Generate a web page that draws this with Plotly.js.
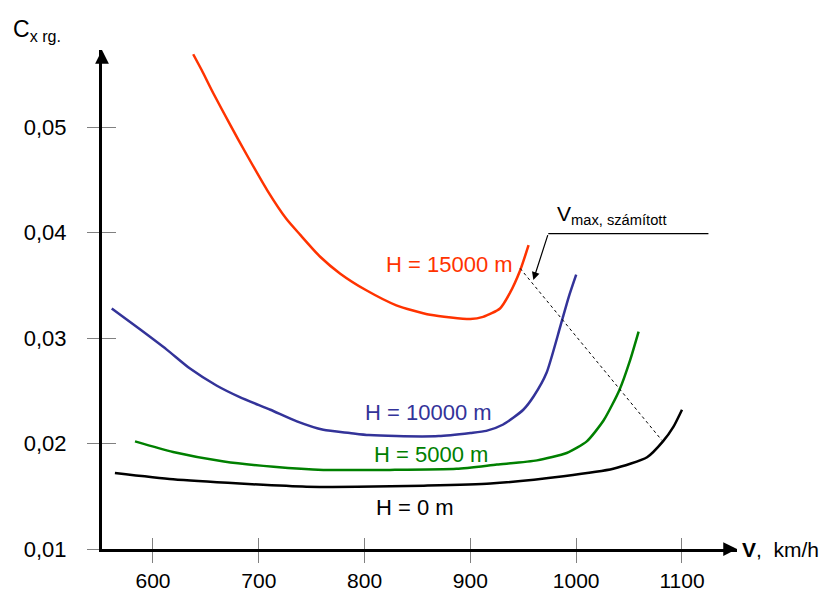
<!DOCTYPE html>
<html>
<head>
<meta charset="utf-8">
<script src="https://cdn.plot.ly/plotly-3.0.1.min.js"></script>
<style>html,body{margin:0;padding:0;background:#fff;}#chart{width:837px;height:594px;}</style>
</head>
<body>
<div id="chart"></div>
<script>
// ---- data ----
const xTickVals = [600, 700, 800, 900, 1000, 1100];
const xTickText = ["600", "700", "800", "900", "1000", "1100"];
const yTickVals = [0.01, 0.02, 0.03, 0.04, 0.05];
const yTickText = ["0,01", "0,02", "0,03", "0,04", "0,05"];

const v15000 = [638, 646, 657, 673, 689, 708, 726, 739, 758, 777, 802, 830, 862, 900, 912, 928, 937, 947, 955];
const c15000 = [0.0569, 0.0554, 0.0532, 0.0502, 0.0473, 0.0440, 0.0413, 0.0398, 0.0377, 0.0361, 0.0345, 0.0331, 0.0322, 0.0318, 0.0320, 0.0328, 0.0342, 0.0364, 0.0388];

const v10000 = [561, 588, 613, 635, 660, 682, 711, 736, 761, 786, 804, 830, 870, 900, 915, 931, 950, 960, 972, 985, 993, 1000];
const c10000 = [0.0328, 0.0308, 0.0289, 0.0271, 0.0255, 0.0244, 0.0232, 0.0221, 0.0213, 0.0210, 0.0208, 0.0207, 0.0207, 0.0210, 0.0212, 0.0218, 0.0232, 0.0245, 0.0267, 0.0311, 0.0339, 0.0360];

const v5000 = [583, 619, 667, 714, 761, 824, 887, 925, 963, 991, 1010, 1026, 1041, 1051, 1059];
const c5000 = [0.0202, 0.0192, 0.0183, 0.0178, 0.0175, 0.0175, 0.0176, 0.0180, 0.0184, 0.0191, 0.0202, 0.0222, 0.0251, 0.0279, 0.0306];

const v0 = [564, 619, 682, 745, 793, 856, 919, 988, 1035, 1067, 1082, 1092, 1100];
const c0 = [0.0172, 0.0166, 0.0162, 0.0159, 0.0159, 0.0160, 0.0162, 0.0169, 0.0176, 0.0187, 0.0202, 0.0216, 0.0232];

// V_max (computed) locus, dotted
const vVmax = [947, 1081];
const cVmax = [0.0366, 0.0203];

// leader line for the V_max label
const vLeader = [1125, 973.6];
const cLeader = [0.0399, 0.0399];
const leaderArrow = {fromV: 973.6, fromC: 0.0399, toV: 959.5, toC: 0.0355};

const labels = [
  {text: "H = 15000 m", v: 880, c: 0.0370, color: "#FF3300"},
  {text: "H = 10000 m", v: 860, c: 0.0229, color: "#333399"},
  {text: "H = 5000 m",  v: 863, c: 0.0190, color: "#008000"},
  {text: "H = 0 m",     v: 848, c: 0.0139, color: "#000000"}
];

const xRange = [551.8, 1152];
const yRange = [0.01, 0.0573];

const FONT = "Arial, 'Liberation Sans', sans-serif";

function curve(x, y, color) {
  return {x: x, y: y, mode: "lines", type: "scatter", hoverinfo: "skip",
          line: {color: color, width: 2.5, shape: "spline", smoothing: 0.6}, showlegend: false};
}

const traces = [
  curve(v15000, c15000, "#FF3300"),
  curve(v10000, c10000, "#333399"),
  curve(v5000, c5000, "#008000"),
  curve(v0, c0, "#000000"),
  {x: vVmax, y: cVmax, mode: "lines", type: "scatter", line: {color: "#000", width: 1, dash: "3px,3px"}, showlegend: false, hoverinfo: "skip"},
  {x: vLeader, y: cLeader, mode: "lines", type: "scatter", line: {color: "#000", width: 1.2}, showlegend: false, hoverinfo: "skip"},
  {x: [xRange[0]], y: [yRange[0]], xaxis: "x2", yaxis: "y2", mode: "markers", marker: {opacity: 0}, showlegend: false, hoverinfo: "skip"}
];

const annotations = labels.map(l => ({
  x: l.v, y: l.c, xref: "x", yref: "y", text: l.text, showarrow: false,
  font: {family: FONT, size: 22, color: l.color}, xanchor: "center", yanchor: "middle"
}));

annotations.push(
  // axis arrowheads
  {x: xRange[1], y: yRange[0], ax: xRange[1] - 12, ay: yRange[0], xref: "x", yref: "y", axref: "x", ayref: "y",
   text: "", showarrow: true, arrowhead: 2, arrowsize: 1.1, arrowwidth: 2.5, arrowcolor: "#000"},
  {x: xRange[0], y: yRange[1], ax: xRange[0], ay: yRange[1] - 0.0012, xref: "x", yref: "y", axref: "x", ayref: "y",
   text: "", showarrow: true, arrowhead: 2, arrowsize: 1.1, arrowwidth: 2.5, arrowcolor: "#000"},
  // leader arrow
  {x: leaderArrow.toV, y: leaderArrow.toC, ax: leaderArrow.fromV, ay: leaderArrow.fromC, xref: "x", yref: "y", axref: "x", ayref: "y",
   text: "", showarrow: true, arrowhead: 2, arrowsize: 1.3, arrowwidth: 1.2, arrowcolor: "#000"},
  // V_max label
  {x: 980, y: 0.0402, xref: "x", yref: "y", text: "V<sub>max, számított</sub>", showarrow: false,
   xanchor: "left", yanchor: "bottom", font: {family: FONT, size: 21, color: "#000"}},
  // axis titles
  {x: 1.005, y: 0, xref: "paper", yref: "paper", text: "<b>V</b>,  km/h", showarrow: false,
   xanchor: "left", yanchor: "middle", font: {family: FONT, size: 21, color: "#000"}},
  {x: -0.143, y: 1.072, xref: "paper", yref: "paper", text: "C<sub>x rg.</sub>", showarrow: false,
   xanchor: "left", yanchor: "top", font: {family: FONT, size: 23, color: "#000"}}
);

const tickCommon = {ticklen: 11, tickwidth: 1, tickcolor: "#808080", showgrid: false, zeroline: false};

const layout = {
  width: 837, height: 594,
  margin: {l: 102, r: 100, t: 50, b: 45},
  paper_bgcolor: "#fff", plot_bgcolor: "#fff",
  font: {family: FONT, size: 22, color: "#000"},
  xaxis: Object.assign({}, tickCommon, {range: xRange, tickvals: xTickVals, ticktext: xTickText, ticks: "outside",
    showline: true, linecolor: "#000", linewidth: 3, ticklabelstandoff: 0,
    tickfont: {family: FONT, size: 21, color: "#000"}}),
  yaxis: Object.assign({}, tickCommon, {range: yRange, tickvals: yTickVals, ticktext: yTickText, ticks: "outside",
    showline: true, linecolor: "#000", linewidth: 3, ticklen: 12, ticklabelstandoff: 16,
    tickfont: {family: FONT, size: 22, color: "#000"}}),
  xaxis2: Object.assign({}, tickCommon, {range: xRange, overlaying: "x", anchor: "y2", side: "bottom", tickvals: xTickVals,
    ticks: "inside", showticklabels: false, showline: false}),
  yaxis2: Object.assign({}, tickCommon, {range: yRange, overlaying: "y", anchor: "x2", side: "left", tickvals: yTickVals,
    ticks: "inside", ticklen: 14, showticklabels: false, showline: false}),
  annotations: annotations,
  showlegend: false
};

Plotly.newPlot("chart", traces, layout, {displayModeBar: false, staticPlot: true});
</script>
</body>
</html>
